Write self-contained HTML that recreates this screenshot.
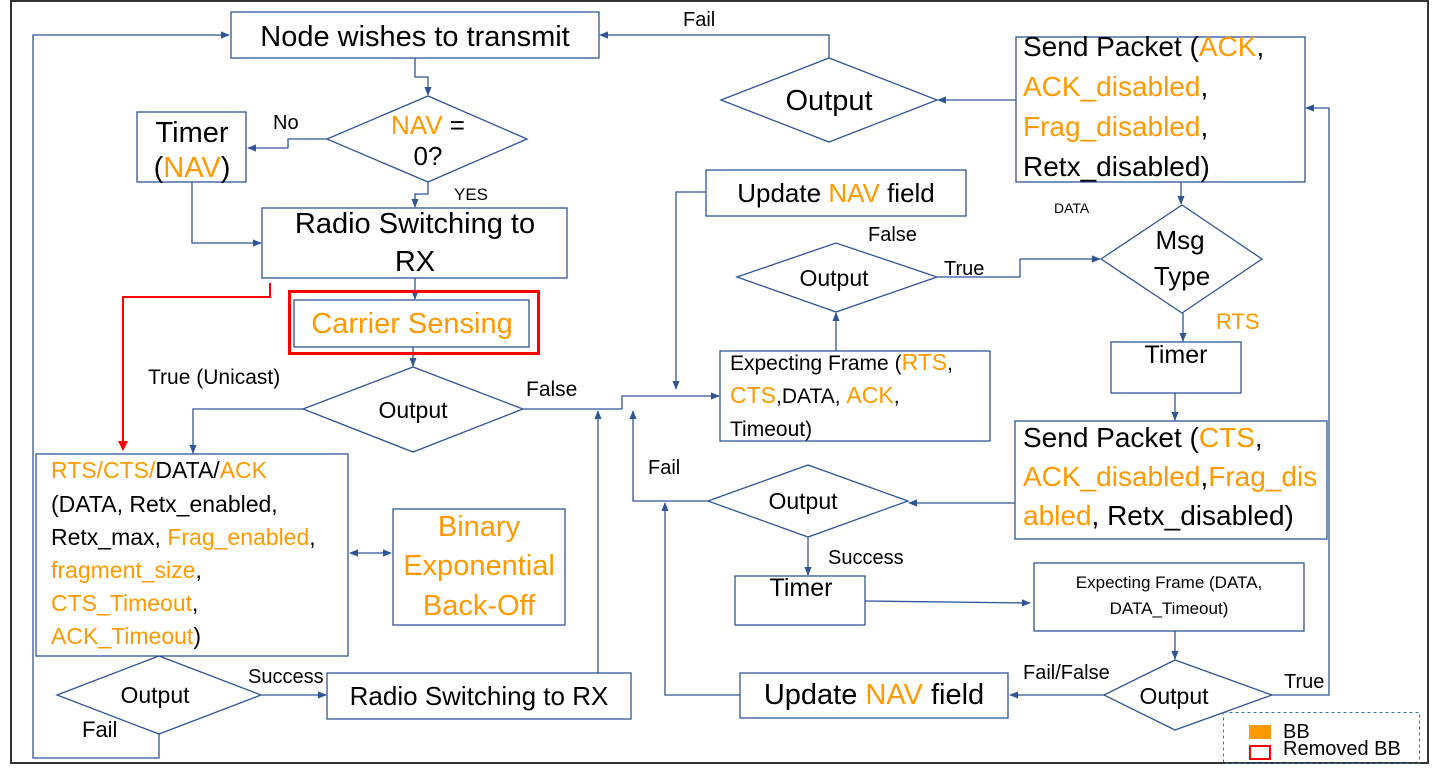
<!DOCTYPE html>
<html><head><style>
html,body{margin:0;padding:0;background:#fff;}
svg text{font-family:"Liberation Sans",sans-serif;}
.o{fill:#FF9900}
</style></head><body>
<svg width="1440" height="768" viewBox="0 0 1440 768" xmlns="http://www.w3.org/2000/svg">
<defs>
<marker id="a" viewBox="0 0 10 10" refX="9" refY="5" markerWidth="7" markerHeight="7" orient="auto-start-reverse"><path d="M0,1 L10,5 L0,9 z" fill="#2F5597"/></marker>
<marker id="r" viewBox="0 0 10 10" refX="9" refY="5" markerWidth="5" markerHeight="5" orient="auto"><path d="M0,0 L10,5 L0,10 z" fill="#FF0000"/></marker>
</defs>
<rect x="11" y="1" width="1417" height="762" fill="none" stroke="#333" stroke-width="2"/>
<g fill="none" stroke="#2F5597" stroke-width="1.3">
<rect x="231" y="12" width="368" height="46"/>
<polygon points="327,139 428,96 527,139 428,182"/>
<rect x="137" y="112" width="109" height="70"/>
<rect x="262" y="208" width="305" height="70"/>
<rect x="294" y="300" width="235" height="47"/>
<polygon points="303,409 413,367 523,409 413,452"/>
<rect x="36" y="454" width="312" height="202"/>
<rect x="393" y="509" width="172" height="116"/>
<polygon points="57,695 159,656 261,695 159,734"/>
<rect x="327" y="673" width="304" height="46"/>
<polygon points="721,100 829,58 937,100 829,142"/>
<rect x="1016" y="37" width="289" height="145"/>
<rect x="706" y="170" width="260" height="46"/>
<polygon points="737,277 836,243 937,277 836,312"/>
<polygon points="1101,259 1182,205 1262,259 1182,313" />
<rect x="720" y="351" width="270" height="90"/>
<rect x="1111" y="342" width="130" height="51"/>
<rect x="1015" y="421" width="312" height="118"/>
<polygon points="708,501 808,465 908,501 808,537"/>
<rect x="735" y="576" width="130" height="49"/>
<rect x="1034" y="563" width="270" height="68"/>
<rect x="740" y="673" width="268" height="45"/>
<polygon points="1104,695 1175,660 1272,695 1175,730"/>
<path d="M159,734 V758 H33 V35 H229" marker-end="url(#a)"/>
<path d="M415,58 V77 H428 V95" marker-end="url(#a)"/>
<path d="M327,139 H288 V148 H248" marker-end="url(#a)"/>
<path d="M192,182 V243 H261" marker-end="url(#a)"/>
<path d="M428,182 V194 H415 V207" marker-end="url(#a)"/>
<path d="M415,278 V299" marker-end="url(#a)"/>
<path d="M413,347 V366" marker-end="url(#a)"/>
<path d="M303,409 H193 V453" marker-end="url(#a)"/>
<path d="M523,409 H622 V396 H719" marker-end="url(#a)"/>
<path d="M598,673 V411" marker-end="url(#a)"/>
<path d="M708,501 H633 V411" marker-end="url(#a)"/>
<path d="M740,695 H665 V503" marker-end="url(#a)"/>
<path d="M706,192 H676 V389" marker-end="url(#a)"/>
<path d="M836,351 V313" marker-end="url(#a)"/>
<path d="M937,277 H1020 V259 H1100" marker-end="url(#a)"/>
<path d="M1181,182 V204" marker-end="url(#a)"/>
<path d="M1183,313 V341" marker-end="url(#a)"/>
<path d="M1175,393 V420" marker-end="url(#a)"/>
<path d="M1015,503 H909" marker-end="url(#a)"/>
<path d="M808,537 V575" marker-end="url(#a)"/>
<path d="M865,601 L1030,603" marker-end="url(#a)"/>
<path d="M1175,631 V659" marker-end="url(#a)"/>
<path d="M1104,695 H1010" marker-end="url(#a)"/>
<path d="M1272,695 H1329 V108 H1306" marker-end="url(#a)"/>
<path d="M1016,100 H938" marker-end="url(#a)"/>
<path d="M829,58 V35 H600" marker-end="url(#a)"/>
<path d="M261,695 H326" marker-end="url(#a)"/>
<path d="M350,553 H391" marker-start="url(#a)" marker-end="url(#a)"/>
</g>
<rect x="289.5" y="291.5" width="249" height="62" fill="none" stroke="#FF0000" stroke-width="3"/>
<path d="M270,283 V297 H123 V450" fill="none" stroke="#FF0000" stroke-width="2" marker-end="url(#r)"/>
<rect x="1223.5" y="712.5" width="196" height="51" fill="none" stroke="#2E75B6" stroke-dasharray="3,3"/>
<rect x="1249" y="725" width="22" height="14" fill="#FF9900"/>
<rect x="1250" y="746" width="20" height="13" fill="none" stroke="#FF0000" stroke-width="2"/>
<g font-size="20"><text x="1283" y="738">BB</text><text x="1283" y="755">Removed BB</text></g>

<g font-size="29" text-anchor="middle">
<text x="415" y="46">Node wishes to transmit</text>
<text x="428" y="134" font-size="26"><tspan class="o">NAV</tspan> =</text>
<text x="428" y="165" font-size="26">0?</text>
<text x="192" y="142">Timer</text>
<text x="192" y="177">(<tspan class="o">NAV</tspan>)</text>
<text x="415" y="233">Radio Switching to</text>
<text x="415" y="271">RX</text>
<text x="412" y="333" class="o">Carrier Sensing</text>
<text x="413" y="418" font-size="23">Output</text>
<text x="479" y="536" class="o">Binary</text>
<text x="479" y="575" class="o">Exponential</text>
<text x="479" y="615" class="o">Back-Off</text>
<text x="155" y="703" font-size="23">Output</text>
<text x="479" y="705" font-size="26">Radio Switching to RX</text>
<text x="829" y="110">Output</text>
<text x="836" y="202" font-size="26">Update <tspan class="o">NAV</tspan> field</text>
<text x="834" y="286" font-size="23">Output</text>
<text x="1180" y="249" font-size="26">Msg</text>
<text x="1182" y="285" font-size="26">Type</text>
<text x="1176" y="363" font-size="25">Timer</text>
<text x="803" y="509" font-size="23">Output</text>
<text x="801" y="596" font-size="25">Timer</text>
<text x="1169" y="588" font-size="17">Expecting Frame (DATA,</text>
<text x="1169" y="614" font-size="17">DATA_Timeout)</text>
<text x="874" y="704">Update <tspan class="o">NAV</tspan> field</text>
<text x="1174" y="704" font-size="23">Output</text>
</g>
<g font-size="23">
<text x="51" y="478"><tspan class="o">RTS/CTS/</tspan>DATA/<tspan class="o">ACK</tspan></text>
<text x="51" y="512">(DATA, Retx_enabled,</text>
<text x="51" y="545">Retx_max, <tspan class="o">Frag_enabled</tspan>,</text>
<text x="51" y="578"><tspan class="o">fragment_size</tspan>,</text>
<text x="51" y="611"><tspan class="o">CTS_Timeout</tspan>,</text>
<text x="51" y="644"><tspan class="o">ACK_Timeout</tspan>)</text>
</g>
<g font-size="28">
<text x="1023" y="56">Send Packet (<tspan class="o">ACK</tspan>,</text>
<text x="1023" y="96"><tspan class="o">ACK_disabled</tspan>,</text>
<text x="1023" y="136"><tspan class="o">Frag_disabled</tspan>,</text>
<text x="1023" y="176">Retx_disabled)</text>
<text x="1023" y="447">Send Packet (<tspan class="o">CTS</tspan>,</text>
<text x="1023" y="486"><tspan class="o">ACK_disabled</tspan>,<tspan class="o">Frag_dis</tspan></text>
<text x="1023" y="525"><tspan class="o">abled</tspan>, Retx_disabled)</text>
</g>
<g font-size="21">
<text x="730" y="370">Expecting Frame (<tspan class="o" font-size="23">RTS</tspan>,</text>
<text x="730" y="403"><tspan class="o" font-size="23">CTS</tspan>,DATA, <tspan class="o" font-size="23">ACK</tspan>,</text>
<text x="730" y="436">Timeout)</text>
</g>
<g font-size="20">
<text x="683" y="26">Fail</text>
<text x="273" y="129">No</text>
<text x="454" y="200" font-size="17">YES</text>
<text x="148" y="384" font-size="21">True (Unicast)</text>
<text x="526" y="396" font-size="21">False</text>
<text x="868" y="241">False</text>
<text x="944" y="275">True</text>
<text x="1054" y="213" font-size="14">DATA</text>
<text x="1216" y="329" class="o" font-size="22">RTS</text>
<text x="648" y="474">Fail</text>
<text x="828" y="564">Success</text>
<text x="248" y="683">Success</text>
<text x="82" y="737" font-size="22">Fail</text>
<text x="1023" y="679">Fail/False</text>
<text x="1284" y="688">True</text>
</g>
</svg>
</body></html>
